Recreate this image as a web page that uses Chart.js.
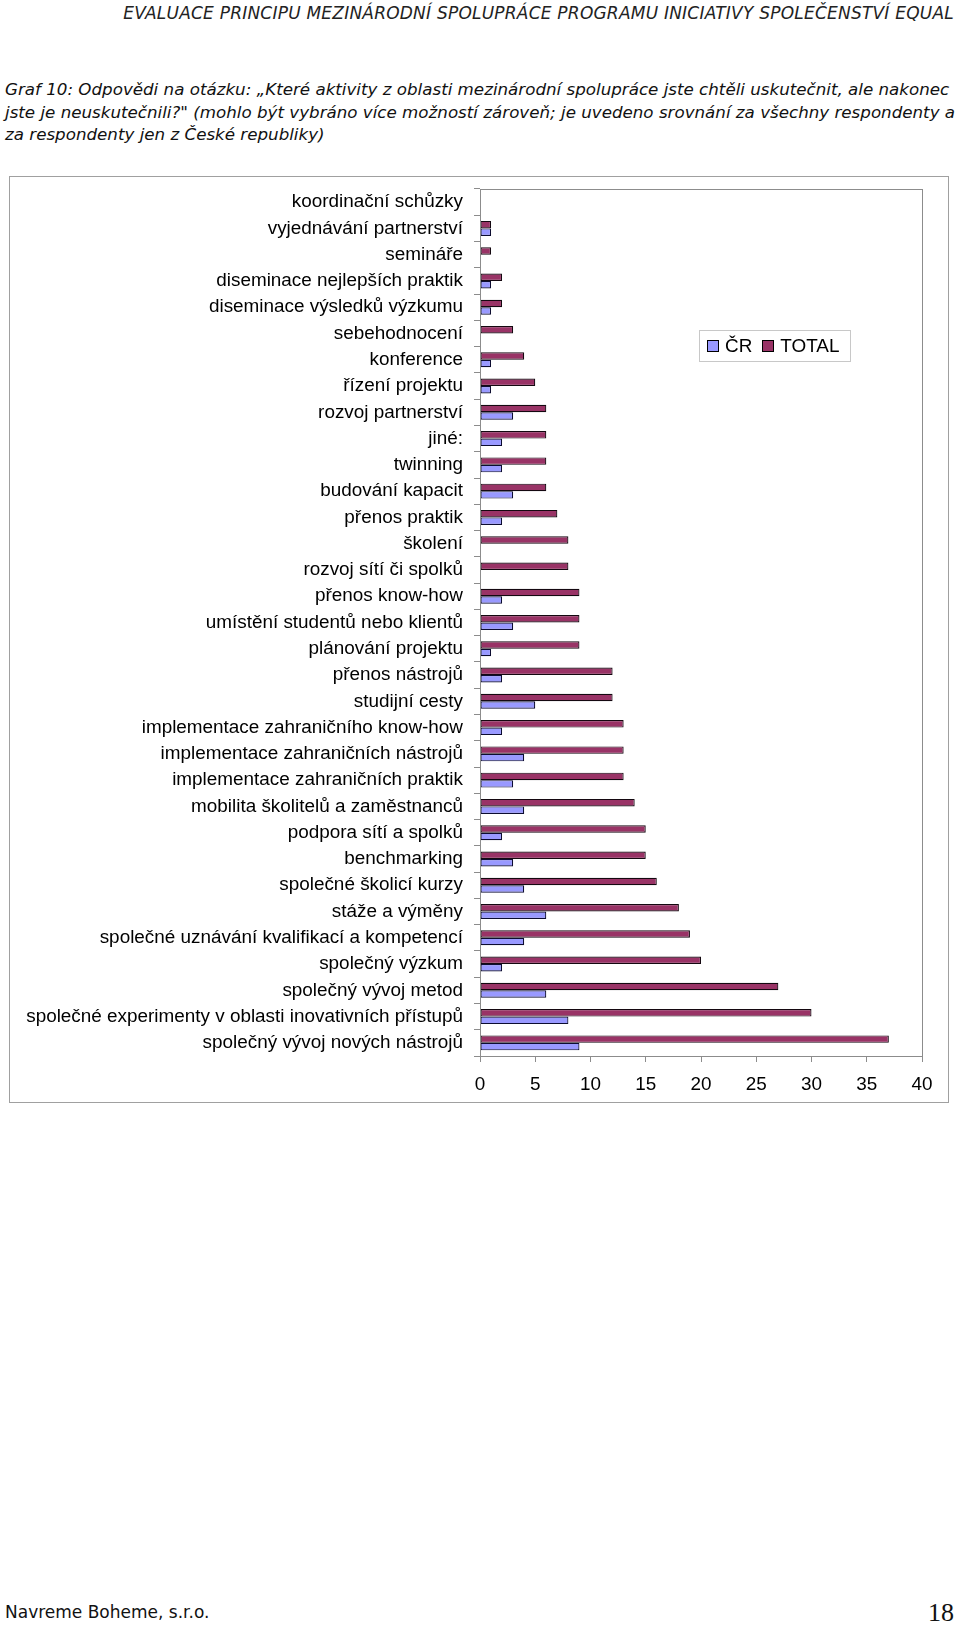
<!DOCTYPE html>
<html>
<head>
<meta charset="utf-8">
<script src="https://cdn.jsdelivr.net/npm/chart.js@4.4.0/dist/chart.umd.min.js"></script>
<style>
  body { margin: 0; background: #fff; width: 960px; height: 1626px; position: relative; overflow: hidden; }
  .head { position: absolute; right: 6px; top: 3px; font-family: "DejaVu Sans", sans-serif; font-style: italic; font-size: 17px; letter-spacing: 0.22px; color: #222; white-space: nowrap; }
  .title { position: absolute; left: 5px; top: 78px; font-family: "DejaVu Sans", sans-serif; font-style: italic; font-size: 16.7px; line-height: 22.7px; color: #111; white-space: nowrap; }
  .frame { position: absolute; left: 9px; top: 176px; width: 938px; height: 925px; border: 1px solid #a0a0a0; }
  .box { position: absolute; left: 1px; top: 1px; width: 937px; height: 923px; }
  .legend { position: absolute; left: 689px; top: 153px; width: 152px; height: 32px; border: 1px solid #c8c8c8; font-family: "Liberation Sans", Arial, sans-serif; font-size: 18.9px; color: #000; display: flex; align-items: center; padding-left: 7px; box-sizing: border-box; }
  .legend span.sw { display: inline-block; width: 10px; height: 10px; border: 1px solid #000; margin-right: 6px; }
  .legend span.tx { margin-right: 10px; }
  .foot { position: absolute; left: 5px; top: 1602px; font-family: "DejaVu Sans", sans-serif; font-size: 17px; color: #111; }
  .page { position: absolute; right: 6px; top: 1598px; font-family: "Liberation Serif", "Times New Roman", serif; font-size: 26px; color: #111; }
</style>
</head>
<body>
<div class="head">EVALUACE PRINCIPU MEZINÁRODNÍ SPOLUPRÁCE PROGRAMU INICIATIVY SPOLEČENSTVÍ EQUAL</div>
<div class="title">Graf 10: Odpovědi na otázku: „Které aktivity z oblasti mezinárodní spolupráce jste chtěli uskutečnit, ale nakonec<br>jste je neuskutečnili?" (mohlo být vybráno více možností zároveň; je uvedeno srovnání za všechny respondenty a<br>za respondenty jen z České republiky)</div>

<div class="frame">
  <div class="box"><canvas id="chart"></canvas></div>
  <div class="legend" id="legend"></div>
</div>

<div class="foot">Navreme Boheme, s.r.o.</div>
<div class="page">18</div>

<script>
// Activities, top to bottom as in the chart
let categories = [
  'koordinační schůzky',
  'vyjednávání partnerství',
  'semináře',
  'diseminace nejlepších praktik',
  'diseminace výsledků výzkumu',
  'sebehodnocení',
  'konference',
  'řízení projektu',
  'rozvoj partnerství',
  'jiné:',
  'twinning',
  'budování kapacit',
  'přenos praktik',
  'školení',
  'rozvoj sítí či spolků',
  'přenos know-how',
  'umístění studentů nebo klientů',
  'plánování projektu',
  'přenos nástrojů',
  'studijní cesty',
  'implementace zahraničního know-how',
  'implementace zahraničních nástrojů',
  'implementace zahraničních praktik',
  'mobilita školitelů a zaměstnanců',
  'podpora sítí a spolků',
  'benchmarking',
  'společné školicí kurzy',
  'stáže a výměny',
  'společné uznávání kvalifikací a kompetencí',
  'společný výzkum',
  'společný vývoj metod',
  'společné experimenty v oblasti inovativních přístupů',
  'společný vývoj nových nástrojů'
]

// Respondents from the Czech Republic
let crValues = [0, 1, 0, 1, 1, 0, 1, 1, 3, 2, 2, 3, 2, 0, 0, 2, 3, 1, 2, 5, 2, 4, 3, 4, 2, 3, 4, 6, 4, 2, 6, 8, 9]

// All respondents
let totalValues = [0, 1, 1, 2, 2, 3, 4, 5, 6, 6, 6, 6, 7, 8, 8, 9, 9, 9, 12, 12, 13, 13, 13, 14, 15, 15, 16, 18, 19, 20, 27, 30, 37]

let xMin = 0
let xMax = 40
let xStep = 5

let seriesNames = ['ČR', 'TOTAL']
let seriesColors = ['#9999ff', '#993366']

let labelFont = { family: '"Liberation Sans", Arial, sans-serif', size: 18.9 }

// Grey frame round the plot area
let plotBorder = {
  id: 'plotBorder',
  afterDraw(chart) {
    let a = chart.chartArea
    let c = chart.ctx
    c.save()
    c.strokeStyle = '#8c8c8c'
    c.lineWidth = 1
    c.strokeRect(Math.round(a.left) + 0.5, Math.round(a.top) + 0.5, Math.round(a.right - a.left), Math.round(a.bottom - a.top))
    c.restore()
  }
}

let cxt = document.querySelector('#chart').getContext('2d')

let chart = new Chart(cxt, {
  type: 'bar',
  data: {
    labels: categories,
    datasets: [
      {
        label: seriesNames[1],
        data: totalValues,
        backgroundColor: seriesColors[1],
        borderColor: '#140810',
        borderWidth: 1.2,
        borderSkipped: false,
        categoryPercentage: 0.57,
        barPercentage: 1.0
      },
      {
        label: seriesNames[0],
        data: crValues,
        backgroundColor: seriesColors[0],
        borderColor: '#0c0c30',
        borderWidth: 1.2,
        borderSkipped: false,
        categoryPercentage: 0.57,
        barPercentage: 1.0
      }
    ]
  },
  options: {
    indexAxis: 'y',
    responsive: true,
    maintainAspectRatio: false,
    animation: false,
    layout: { padding: { top: 11, right: 26, bottom: 0, left: 0 } },
    plugins: {
      legend: { display: false },
      tooltip: { enabled: false }
    },
    scales: {
      x: {
        min: xMin,
        max: xMax,
        ticks: { stepSize: xStep, color: '#000', font: labelFont, padding: 11, maxRotation: 0 },
        grid: { drawOnChartArea: false, drawTicks: true, tickLength: 6, color: '#8c8c8c' },
        border: { display: true, color: '#8c8c8c' },
        afterFit(scale) {
          scale.height = 45
          scale.paddingLeft = 0
          scale.paddingRight = 0
        }
      },
      y: {
        ticks: { color: '#000', font: labelFont, padding: 11, autoSkip: false },
        grid: { drawOnChartArea: false, drawTicks: true, tickLength: 6, color: '#8c8c8c', offset: true },
        border: { display: true, color: '#8c8c8c' },
        afterFit(scale) {
          scale.width = 469
          scale.paddingTop = 0
          scale.paddingBottom = 0
        }
      }
    }
  },
  plugins: [plotBorder]
})

// Legend in the same order as the original (ČR first)
let legendBox = document.querySelector('#legend')
seriesNames.forEach(function (name, i) {
  let sw = document.createElement('span')
  sw.className = 'sw'
  sw.style.background = seriesColors[i]
  let tx = document.createElement('span')
  tx.className = 'tx'
  tx.textContent = name
  legendBox.appendChild(sw)
  legendBox.appendChild(tx)
})
</script>
</body>
</html>
